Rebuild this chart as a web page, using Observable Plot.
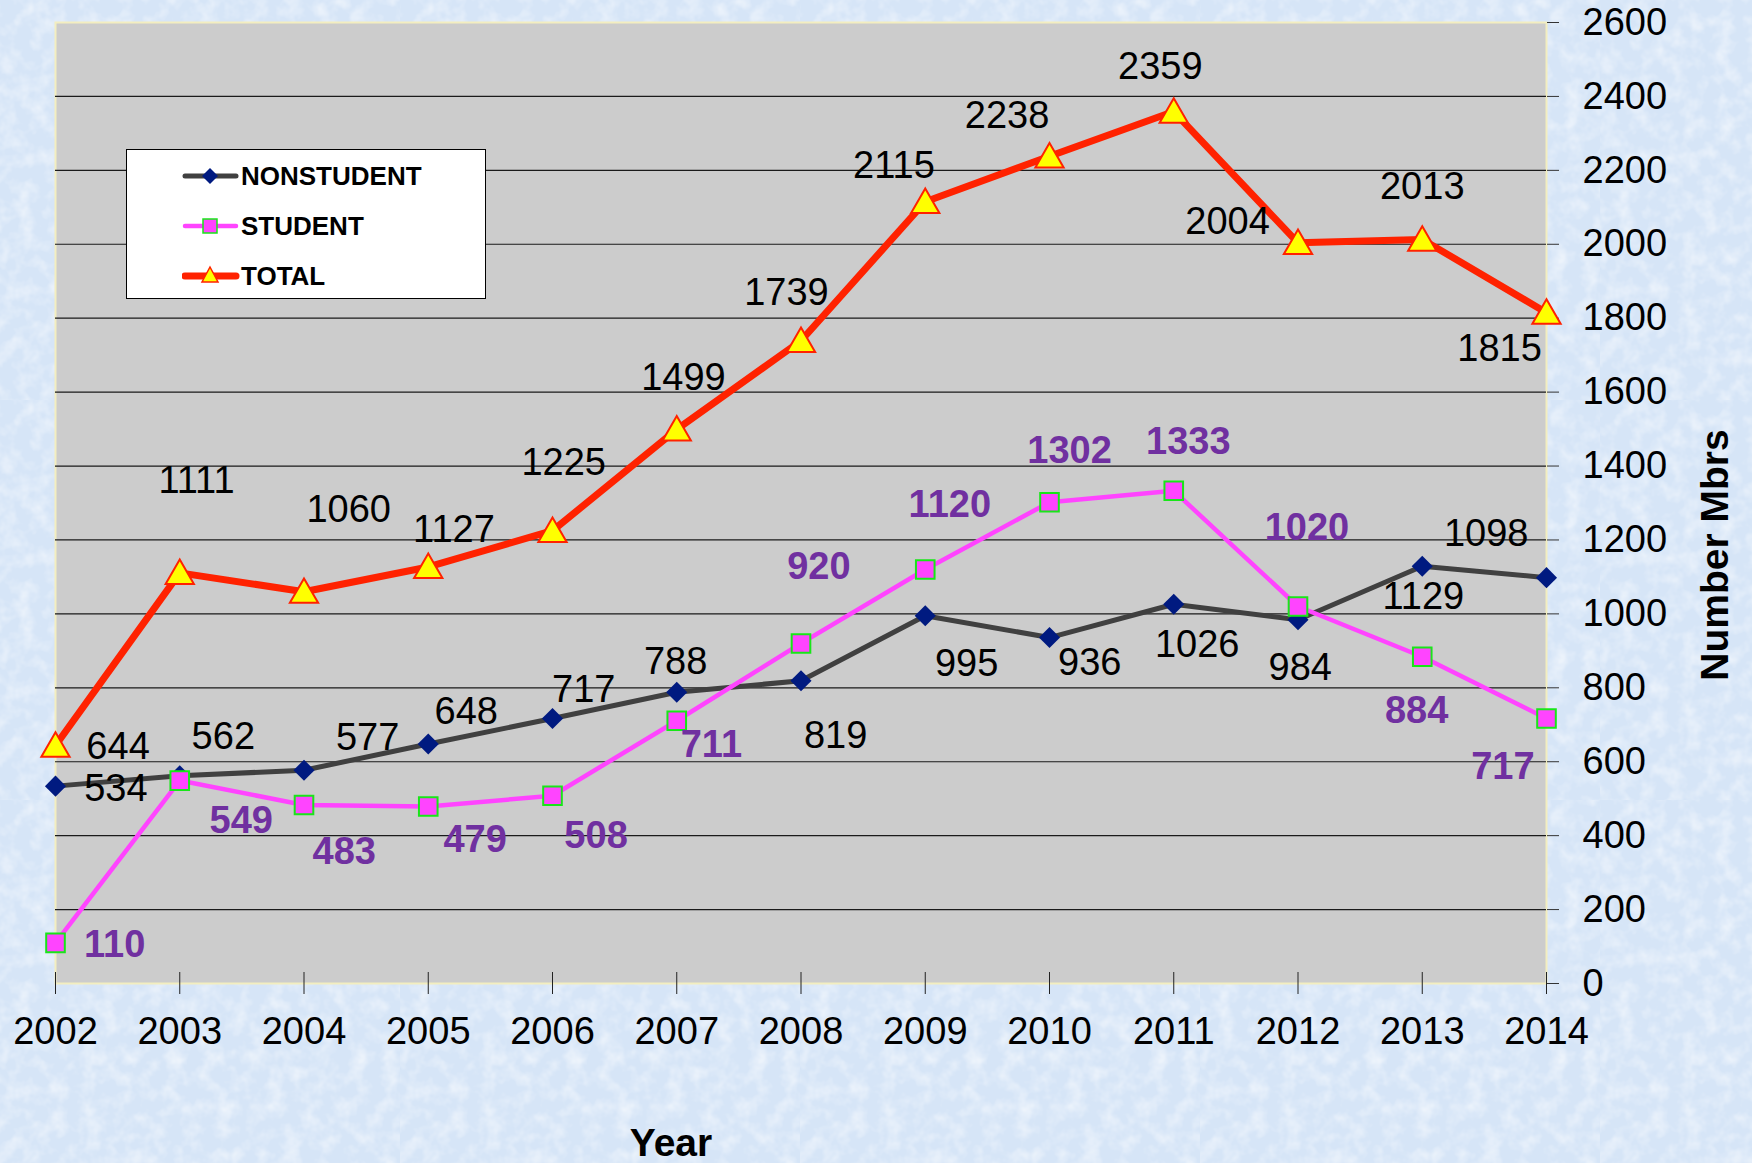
<!DOCTYPE html>
<html>
<head>
<meta charset="utf-8">
<script src="https://cdn.jsdelivr.net/npm/d3@7"></script>
<script src="https://cdn.jsdelivr.net/npm/@observablehq/plot@0.6"></script>
<style>
  html, body { margin: 0; padding: 0; }
  body { width: 1752px; height: 1163px; background-color: #d6e5f7; overflow: hidden;
         font-family: "Liberation Sans", Arial, sans-serif; }
  #wrap { position: relative; width: 1752px; height: 1163px;
          background-image: url("data:image/svg+xml;utf8,<svg xmlns='http://www.w3.org/2000/svg' width='400' height='400'><filter id='n'><feTurbulence type='fractalNoise' baseFrequency='0.06' numOctaves='3' seed='4'/><feColorMatrix values='0 0 0 0 1  0 0 0 0 1  0 0 0 0 1  0 0 0 1.1 -0.45'/></filter><rect width='400' height='400' filter='url(%23n)'/></svg>"); }
  #chart { position: absolute; left: 0; top: 0; }
  #legend { position: absolute; left: 126px; top: 149px; width: 360px; height: 150px;
            background: #fff; border: 1.5px solid #000; box-sizing: border-box; }
  .row { position: absolute; left: 0; }
  .row svg { position: absolute; left: 55px; top: 0; }
  .row span { position: absolute; left: 114px; top: 50%; transform: translateY(-50%);
              font-size: 26px; font-weight: bold; color: #000; white-space: nowrap; }
</style>
</head>
<body>
<div id="wrap">
  <div id="chart"></div>
  <div id="legend"></div>
</div>
<script>
// ---- data ----
const years = [2002, 2003, 2004, 2005, 2006, 2007, 2008, 2009, 2010, 2011, 2012, 2013, 2014];
const nonstudent = [534, 562, 577, 648, 717, 788, 819, 995, 936, 1026, 984, 1129, 1098];
const student = [110, 549, 483, 479, 508, 711, 920, 1120, 1302, 1333, 1020, 884, 717];
const total = [644, 1111, 1060, 1127, 1225, 1499, 1739, 2115, 2238, 2359, 2004, 2013, 1815];
const yTicks = [0, 200, 400, 600, 800, 1000, 1200, 1400, 1600, 1800, 2000, 2200, 2400, 2600];
const gridValues = [200, 400, 600, 800, 1000, 1200, 1400, 1600, 1800, 2000, 2200, 2400];
const seriesNames = ["NONSTUDENT", "STUDENT", "TOTAL"];

// ---- label placement relative to each point (reference pixels, as drawn) ----
const nsLabelOffset = [[54,2],[39,-35],[57,-29],[34,-29],[28,-26],[-1,-27],[31,49],[37,43],[36,23],[21,36],[2,43],[1,27],[-54,-39]];
const stLabelOffset = [[53,2],[55,36],[36,42],[42,30],[39,36],[31,22],[16,-69],[22,-58],[18,-46],[13,-44],[8,-70],[-5,48],[-39,43]];
const totLabelOffset = [[56,1],[15,-82],[40,-73],[23,-33],[10,-61],[6,-46],[-13,-43],[-28,-32],[-38,-36],[-12,-40],[-63,-19],[0,-47],[-42,32]];
const k = 1752 / 1568;

const mkRows = (vals, offs) => years.map((year, i) => ({year, value: vals[i], dx: offs[i][0] * k, dy: offs[i][1] * k}));
const nsRows = mkRows(nonstudent, nsLabelOffset);
const stRows = mkRows(student, stLabelOffset);
const totRows = mkRows(total, totLabelOffset);

const labelMarks = (rows, opts) => rows.map(r =>
  Plot.text([r], {x: "year", y: "value", text: d => String(d.value), dx: r.dx, dy: r.dy,
                  textAnchor: "middle", lineAnchor: "middle", fontSize: 38, ...opts}));

const C = {
  nsLine: "#404040", nsDot: "#001a80",
  stLine: "#ff44ff", stStroke: "#19e619", stLabel: "#7030a0",
  totLine: "#ff2200", totFill: "#ffff00"
};

const chart = Plot.plot({
  width: 1752, height: 1163,
  marginLeft: 55, marginRight: 206, marginTop: 22, marginBottom: 180,
  x: {domain: [2002, 2014]},
  y: {domain: [0, 2600]},
  style: {background: "transparent", fontFamily: "Liberation Sans, Arial, sans-serif", overflow: "visible"},
  marks: [
    Plot.frame({fill: "#cccccc", stroke: "#f3eec0", strokeWidth: 2}),
    Plot.ruleY(gridValues, {stroke: "#1a1a1a", strokeWidth: 1.2}),
    Plot.axisY({anchor: "right", ticks: yTicks, tickSize: 12, tickPadding: 24, fontSize: 38,
                line: true, label: null, stroke: "#333", fill: "#000", tickFormat: d => String(d)}),
    Plot.axisX({ticks: years, tickSize: 22, dy: -11, tickFormat: () => "", label: null, stroke: "#222"}),
    Plot.axisX({ticks: years, tickSize: 0, tickPadding: 34, fontSize: 38, label: null,
                line: true, stroke: "#555533", fill: "#000", tickFormat: d => String(d)}),
    // NONSTUDENT
    Plot.line(nsRows, {x: "year", y: "value", stroke: C.nsLine, strokeWidth: 5}),
    Plot.dot(nsRows, {x: "year", y: "value", symbol: "diamond2", r: 9.5, fill: C.nsDot, stroke: "none"}),
    // STUDENT
    Plot.line(stRows, {x: "year", y: "value", stroke: C.stLine, strokeWidth: 4.5}),
    Plot.dot(stRows, {x: "year", y: "value", symbol: "square", r: 10.5, fill: C.stLine, stroke: C.stStroke, strokeWidth: 2}),
    // TOTAL
    Plot.line(totRows, {x: "year", y: "value", stroke: C.totLine, strokeWidth: 7}),
    Plot.dot(totRows, {x: "year", y: "value", symbol: "triangle", r: 10.5, dy: 3, fill: C.totFill, stroke: C.totLine, strokeWidth: 2}),
    // value labels
    ...labelMarks(totRows, {fill: "#000"}),
    ...labelMarks(nsRows, {fill: "#000"}),
    ...labelMarks(stRows, {fill: C.stLabel, fontWeight: "bold"}),
    // axis titles
    Plot.text(["Year"], {frameAnchor: "bottom", text: d => d, dx: -130, dy: 160, fontSize: 39,
                         fontWeight: "bold", textAnchor: "middle", lineAnchor: "middle", fill: "#000"}),
    Plot.text(["Number Mbrs"], {frameAnchor: "right", text: d => d, dx: 169, dy: 52, rotate: -90, fontSize: 39,
                                fontWeight: "bold", textAnchor: "middle", lineAnchor: "middle", fill: "#000"})
  ]
});
document.getElementById("chart").appendChild(chart);

// ---- legend ----
const legend = document.getElementById("legend");
const swatches = [
  {line: C.nsLine, lw: 5, marker: `<path d="M28,3 L36,11 L28,19 L20,11 Z" fill="${C.nsDot}"/>`},
  {line: C.stLine, lw: 4.5, marker: `<rect x="21" y="4" width="14" height="14" fill="${C.stLine}" stroke="${C.stStroke}" stroke-width="1.5"/>`},
  {line: C.totLine, lw: 7, marker: `<path d="M28,2 L36,17 L20,17 Z" fill="${C.totFill}" stroke="${C.totLine}" stroke-width="1.5"/>`}
];
const rowCenters = [26, 76, 126];
seriesNames.forEach((name, i) => {
  const row = document.createElement("div");
  row.className = "row";
  row.style.top = (rowCenters[i] - 11) + "px";
  row.style.width = "100%";
  row.style.height = "22px";
  const s = swatches[i];
  row.innerHTML = `<svg width="58" height="22" viewBox="0 0 58 22">
      <line x1="3" y1="11" x2="54" y2="11" stroke="${s.line}" stroke-width="${s.lw}" stroke-linecap="round"/>
      ${s.marker}</svg><span>${name}</span>`;
  legend.appendChild(row);
});
</script>
</body>
</html>
